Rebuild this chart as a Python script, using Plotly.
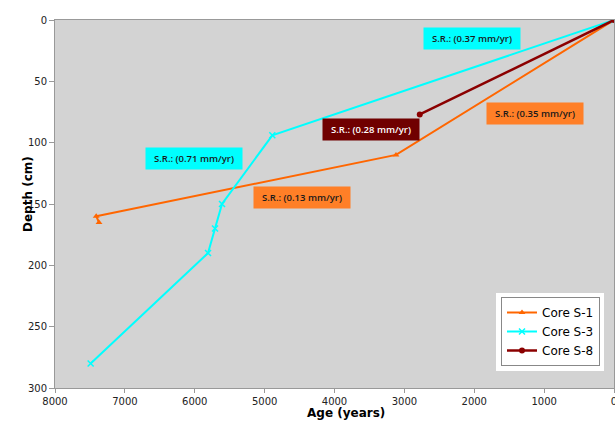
import plotly.graph_objects as go

# Data
s1_age = [0, 3120, 7410, 7370]
s1_depth = [0, 110, 160, 165]
s3_age = [0, 4890, 5610, 5710, 5810, 7490]
s3_depth = [0, 94, 150, 170, 190, 280]
s8_age = [0, 2780]
s8_depth = [0, 77]

label_texts = ["S.R.: (0.37 mm/yr)", "S.R.: (0.28 mm/yr)", "S.R.: (0.35 mm/yr)",
               "S.R.: (0.71 mm/yr)", "S.R.: (0.13 mm/yr)"]
label_age = [2030, 3480, 1136, 6014, 4471]
label_depth = [14.7, 89.3, 76.1, 112.5, 145]
label_fill = ["#00FFFF", "#700000", "#FF7F27", "#00FFFF", "#FF7F27"]
label_color = ["#1a1a1a", "#ffffff", "#1a1a1a", "#1a1a1a", "#1a1a1a"]

x_ticks = [8000, 7000, 6000, 5000, 4000, 3000, 2000, 1000, 0]
y_ticks = [0, 50, 100, 150, 200, 250, 300]

fig = go.Figure()
fig.add_trace(go.Scatter(x=s1_age, y=s1_depth, name="Core S-1", mode="lines+markers",
                         line=dict(color="#FF6600", width=2),
                         marker=dict(symbol="triangle-up", size=6, color="#FF6600")))
fig.add_trace(go.Scatter(x=s3_age, y=s3_depth, name="Core S-3", mode="lines+markers",
                         line=dict(color="#00FFFF", width=2),
                         marker=dict(symbol="x-thin", size=6, color="#00FFFF",
                                     line=dict(color="#00FFFF", width=1.5))))
fig.add_trace(go.Scatter(x=s8_age, y=s8_depth, name="Core S-8", mode="lines+markers",
                         line=dict(color="#8B0000", width=2.5),
                         marker=dict(symbol="circle", size=6, color="#8B0000")))

for t, ax_, ay_, f, c in zip(label_texts, label_age, label_depth, label_fill, label_color):
    fig.add_annotation(x=ax_, y=ay_, xref="x", yref="y", text=t, showarrow=False,
                       bgcolor=f, width=90, height=15, borderpad=3,
                       font=dict(family="Open Sans", size=9.5, color=c, weight=600))

# Axis titles
fig.add_annotation(x=(346 - 55) / 559, y=(388 - 413) / 368, xref="paper", yref="paper",
                   text="Age (years)", showarrow=False, yanchor="middle",
                   font=dict(family="DejaVu Sans", size=12, color="#000", weight="bold"))
fig.add_annotation(x=(19 - 55) / 559, y=(388 - 194) / 368, xref="paper", yref="paper",
                   text="Depth (cm)", showarrow=False, textangle=-90,
                   font=dict(family="DejaVu Sans", size=12, color="#000", weight="bold"))

# White frame behind legend
fig.add_shape(type="rect", xref="paper", yref="paper",
              x0=(496 - 55) / 559, x1=(604 - 55) / 559,
              y0=(388 - 371) / 368, y1=(388 - 293) / 368,
              fillcolor="white", line=dict(width=0), layer="above")

fig.update_layout(
    width=615, height=421,
    margin=dict(l=55, r=1, t=20, b=33, autoexpand=False),
    paper_bgcolor="white", plot_bgcolor="#D3D3D3",
    showlegend=True,
    legend=dict(x=(501 - 55) / 559, y=(388 - 366) / 368, xanchor="left", yanchor="bottom",
                bgcolor="white", bordercolor="#888888", borderwidth=1,
                font=dict(family="DejaVu Sans", size=12, color="#000"),
                tracegroupgap=0, itemwidth=30),
    xaxis=dict(range=[8000, 0], tickvals=x_ticks, ticks="outside", ticklen=4,
               tickcolor="#999", showline=True, linecolor="#999", linewidth=1, mirror=True,
               showgrid=False, zeroline=False, ticklabeloverflow="allow", automargin=False,
               tickfont=dict(family="DejaVu Sans", size=10, color="#222")),
    yaxis=dict(range=[300, 0], tickvals=y_ticks, ticks="outside", ticklen=5,
               tickcolor="#999", showline=True, linecolor="#999", linewidth=1, mirror=True,
               showgrid=False, zeroline=False, ticklabeloverflow="allow", automargin=False,
               tickfont=dict(family="DejaVu Sans", size=10, color="#222")),
)

fig.write_html("out.html", config={"displayModeBar": False},
               post_script="document.body.style.margin='0';document.body.style.overflow='hidden';")
